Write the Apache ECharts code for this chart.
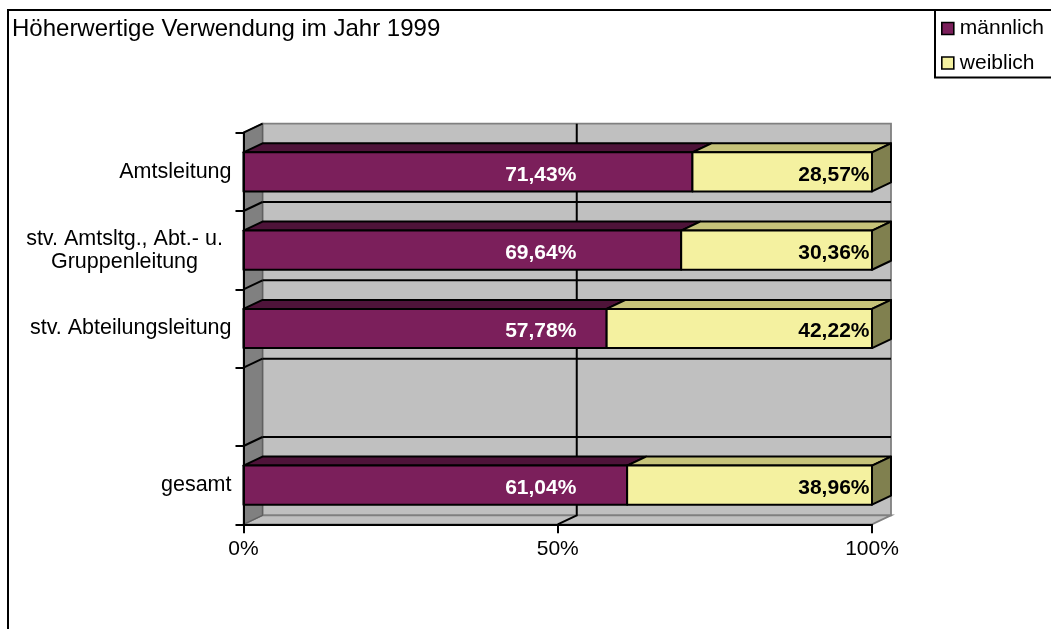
<!DOCTYPE html>
<html>
<head>
<meta charset="utf-8">
<script src="https://cdn.jsdelivr.net/npm/echarts/dist/echarts.min.js"></script>
<style>html,body{margin:0;padding:0;background:#fff}#c{width:1051px;height:629px}</style>
</head>
<body>
<div id="c"></div>
<script>
// ---- data ----
const chartTitle = 'Höherwertige Verwendung im Jahr 1999';
const categories = ['Amtsleitung', 'stv. Amtsltg., Abt.- u.\nGruppenleitung', 'stv. Abteilungsleitung', '', 'gesamt'];
const seriesNames = ['männlich', 'weiblich'];
const maennlich = [71.43, 69.64, 57.78, null, 61.04];
const weiblich = [28.57, 30.36, 42.22, null, 38.96];
const xTicks = [0, 50, 100];

// ---- style ----
const FONT = '"Liberation Sans", Arial, sans-serif';
const DEPTH = [19, -9];
const BAR_FRAC = 0.5;
const COL_M = { front: '#7B1F5B', top: '#4E1339', side: '#3D0F2D' };
const COL_W = { front: '#F4F1A0', top: '#C6C37A', side: '#80804F' };
const LBL_M = { at: 47.3, align: 'center', color: '#FFFFFF', dy: 3 };
const LBL_W = { at: 99.6, align: 'right', color: '#000000', dy: 3 };

const fmt = v => v.toFixed(2).replace('.', ',') + '%';

const mData = [], wData = [];
categories.forEach((c, i) => {
  if (maennlich[i] == null) return;
  mData.push([0, maennlich[i], i, maennlich[i]]);
  wData.push([maennlich[i], maennlich[i] + weiblich[i], i, weiblich[i]]);
});

function wallRender(params, api) {
  const [dx, dy] = DEPTH;
  const n = categories.length;
  const band = api.size([0, 1])[1];
  const xL = api.coord([xTicks[0], 0])[0];
  const xR = api.coord([xTicks[xTicks.length - 1], 0])[0];
  const b = [];
  for (let i = 0; i < n; i++) b.push(api.coord([0, i])[1] - band / 2);
  b.push(api.coord([0, n - 1])[1] + band / 2);
  const b0 = b[0], bn = b[n];
  const ch = [];
  ch.push({ type: 'rect', shape: { x: xL + dx, y: b0 + dy, width: xR - xL, height: bn - b0 },
    style: { fill: '#C0C0C0', stroke: '#808080', lineWidth: 1.8 } });
  ch.push({ type: 'polygon', shape: { points: [[xL, bn], [xR, bn], [xR + dx, bn + dy], [xL + dx, bn + dy]] },
    style: { fill: '#C0C0C0', stroke: '#808080', lineWidth: 1.8 } });
  ch.push({ type: 'polygon', shape: { points: [[xL, b0], [xL + dx, b0 + dy], [xL + dx, bn + dy], [xL, bn]] },
    style: { fill: '#808080', stroke: '#606060', lineWidth: 1.4 } });
  for (let i = 1; i < n; i++) {
    ch.push({ type: 'line', shape: { x1: xL + dx, y1: b[i] + dy, x2: xR + dx, y2: b[i] + dy },
      style: { stroke: '#000', lineWidth: 2 } });
  }
  for (let i = 0; i < n; i++) {
    ch.push({ type: 'line', shape: { x1: xL, y1: b[i], x2: xL + dx, y2: b[i] + dy },
      style: { stroke: '#000', lineWidth: 2 } });
  }
  xTicks.slice(1, -1).forEach(t => {
    const x = api.coord([t, 0])[0];
    ch.push({ type: 'polyline', shape: { points: [[x + dx, b0 + dy], [x + dx, bn + dy], [x, bn]] },
      style: { stroke: '#000', lineWidth: 2, fill: null } });
  });
  return { type: 'group', children: ch };
}

function barRender(colors, isLast, lbl) {
  return function (params, api) {
    const s = api.value(0), e = api.value(1), c = api.value(2), v = api.value(3);
    const p0 = api.coord([s, c]), p1 = api.coord([e, c]);
    const band = api.size([0, 1])[1];
    const h = band * BAR_FRAC;
    const yT = p0[1] - h / 2, yB = p0[1] + h / 2;
    const x0 = p0[0], x1 = p1[0];
    const [dx, dy] = DEPTH;
    const ln = { stroke: '#000', lineWidth: 2, lineJoin: 'round' };
    const ch = [
      { type: 'polygon', shape: { points: [[x0, yT], [x1, yT], [x1 + dx, yT + dy], [x0 + dx, yT + dy]] },
        style: Object.assign({ fill: colors.top }, ln) },
      { type: 'rect', shape: { x: x0, y: yT, width: x1 - x0, height: h },
        style: Object.assign({ fill: colors.front }, ln) }
    ];
    if (isLast) {
      ch.push({ type: 'polygon', shape: { points: [[x1, yT], [x1 + dx, yT + dy], [x1 + dx, yB + dy], [x1, yB]] },
        style: Object.assign({ fill: colors.side }, ln) });
    }
    const lp = api.coord([lbl.at, c]);
    ch.push({ type: 'text', x: lp[0], y: lp[1] + lbl.dy,
      style: { text: fmt(v), fill: lbl.color, fontSize: 21, fontWeight: 'bold', fontFamily: FONT,
        align: lbl.align, verticalAlign: 'middle' } });
    return { type: 'group', children: ch };
  };
}

const chart = echarts.init(document.getElementById('c'), null, { renderer: 'canvas' });
chart.setOption({
  animation: false,
  backgroundColor: '#fff',
  textStyle: { fontFamily: FONT },
  graphic: [
    { type: 'rect', z: -10, shape: { x: 8, y: 10, width: 2000, height: 2000 },
      style: { fill: '#fff', stroke: '#000', lineWidth: 2 } },
    { type: 'rect', z: 50, shape: { x: 935, y: 10, width: 300, height: 67.5 },
      style: { fill: '#fff', stroke: '#000', lineWidth: 2 } },
    { type: 'text', z: 50, x: 12, y: 29,
      style: { text: chartTitle, fontSize: 24, fontFamily: FONT, fill: '#000', verticalAlign: 'middle' } }
  ],
  legend: {
    z: 60,
    orient: 'vertical', left: 941, top: 16.5, padding: 0, itemGap: 10.5,
    itemWidth: 12, itemHeight: 12, icon: 'rect',
    textStyle: { fontSize: 21, fontFamily: FONT, color: '#000', lineHeight: 24, padding: [0, 0, 0, 1] },
    data: [
      { name: seriesNames[0], itemStyle: { color: COL_M.front, borderColor: '#000', borderWidth: 1.6 } },
      { name: seriesNames[1], itemStyle: { color: COL_W.front, borderColor: '#000', borderWidth: 1.6 } }
    ]
  },
  grid: { left: 243.5, right: 179, top: 132.7, bottom: 104.7, outerBoundsMode: 'none', containLabel: false },
  xAxis: {
    type: 'value', min: xTicks[0], max: xTicks[xTicks.length - 1], interval: xTicks[1] - xTicks[0], z: 5,
    axisLine: { show: true, lineStyle: { color: '#000', width: 2 } },
    axisTick: { show: true, length: 9, lineStyle: { color: '#000', width: 2 } },
    splitLine: { show: false },
    axisLabel: { formatter: v => v + '%', fontSize: 21, color: '#000', fontFamily: FONT, margin: 14 }
  },
  yAxis: {
    type: 'category', data: categories, inverse: true, z: 5,
    axisLine: { show: true, lineStyle: { color: '#000', width: 2 } },
    axisTick: { show: true, length: 8, lineStyle: { color: '#000', width: 2 } },
    splitLine: { show: false },
    axisLabel: {
      fontSize: 21.5, color: '#000', fontFamily: FONT, margin: 12, interval: 0,
      formatter: v => v.indexOf('\n') >= 0 ? v.split('\n').map(l => '{c|' + l + '}').join('\n') : v,
      rich: { c: { width: 214, align: 'center', fontSize: 21.5, fontFamily: FONT, color: '#000', lineHeight: 23 } }
    }
  },
  series: [
    { type: 'custom', name: '_wall', silent: true, z: 1, renderItem: wallRender,
      data: [[0, 0]], encode: { x: 0, y: 1 } },
    { type: 'custom', name: seriesNames[0], z: 2, renderItem: barRender(COL_M, false, LBL_M),
      data: mData, encode: { x: [0, 1], y: 2 }, itemStyle: { color: COL_M.front } },
    { type: 'custom', name: seriesNames[1], z: 3, renderItem: barRender(COL_W, true, LBL_W),
      data: wData, encode: { x: [0, 1], y: 2 }, itemStyle: { color: COL_W.front } }
  ]
});
</script>
</body>
</html>
